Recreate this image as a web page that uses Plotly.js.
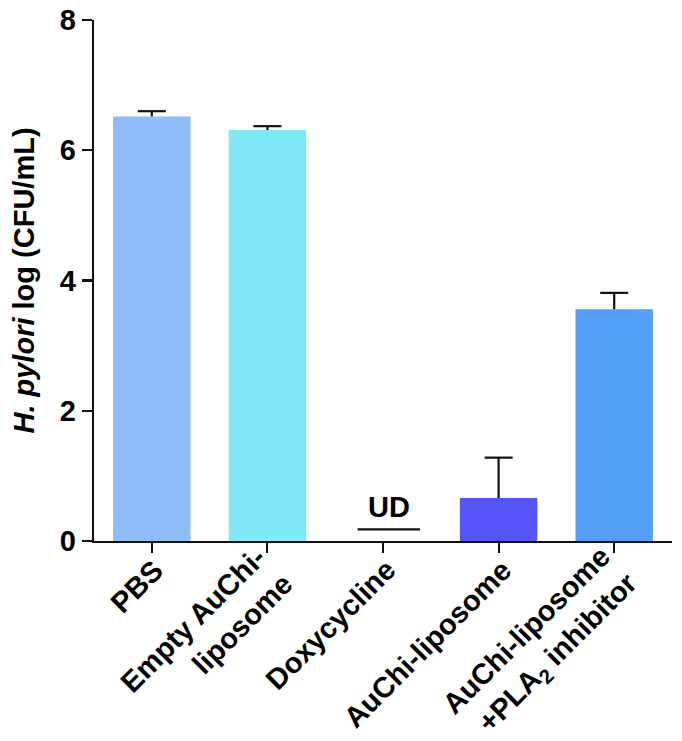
<!DOCTYPE html>
<html>
<head>
<meta charset="utf-8">
<script src="https://cdn.plot.ly/plotly-3.0.1.min.js"></script>
<style>html,body{margin:0;padding:0;background:#fff;}#chart{width:682px;height:741px;}</style>
</head>
<body>
<div id="chart"></div>
<script>
var categories = ["PBS", "Empty AuChi-liposome", "Doxycycline", "AuChi-liposome", "AuChi-liposome+PLA2 inhibitor"];
var tickLabels = ["PBS", "Empty AuChi-<br>liposome", "Doxycycline", "AuChi-liposome", "AuChi-liposome<br>+PLA<sub>2</sub> inhibitor"];
var means = [6.52, 6.31, null, 0.66, 3.56];
var errPlus = [0.08, 0.06, null, 0.62, 0.25];
var barColors = ["#8FBDF9", "#80E8F8", "#ffffff", "#5454F8", "#559EF9"];
var udCategory = "Doxycycline";
var udLevel = 0.18;
var yTicks = [0, 2, 4, 6, 8];

var FONT = "Arial, 'Liberation Sans', sans-serif";
var LABEL_SIZE = 29;

var bars = {
  type: "bar",
  x: categories,
  y: means,
  width: 0.67,
  marker: {color: barColors, line: {width: 0}},
  hoverinfo: "skip"
};

// error bars (upper only): cap marker at mean+err, stem down to bar top
var tops = means.map(function (m, i) { return (m == null || errPlus[i] == null) ? null : m + errPlus[i]; });
var errs = {
  type: "scatter",
  mode: "markers",
  x: categories,
  y: tops,
  marker: {symbol: "line-ew", size: 20, color: "#111", line: {color: "#111", width: 2.2}},
  error_y: {type: "data", symmetric: false, array: errPlus.map(function () { return 0; }),
            arrayminus: errPlus.map(function (e) { return e == null ? 0 : e; }),
            color: "#111", thickness: 2.2, width: 0},
  cliponaxis: false,
  hoverinfo: "skip"
};

var udIndex = categories.indexOf(udCategory);

// rotated category labels: right-aligned block, end-edge centred just below each tick
var endDx = 7, endDy = 24;
var labelAnns = tickLabels.map(function (t, i) {
  var n = t.split("<br>").length;
  var H = n * LABEL_SIZE * 1.3 + 2;
  var k = 0.354 * H;
  return {
    xref: "x", yref: "paper", x: categories[i], y: 0,
    text: "<b>" + t + "</b>", showarrow: false, textangle: -45,
    xanchor: "right", yanchor: "top", align: "right",
    xshift: endDx + k, yshift: -(endDy - k),
    font: {family: FONT, size: LABEL_SIZE, color: "#000"}
  };
});

var layout = {
  width: 682, height: 741,
  margin: {l: 94, r: 10, t: 20, b: 200},
  paper_bgcolor: "#fff", plot_bgcolor: "#fff",
  showlegend: false,
  font: {family: FONT, color: "#000"},
  xaxis: {
    type: "category",
    range: [-0.5, 4.5],
    automargin: false,
    showline: true, linecolor: "#111", linewidth: 2.2,
    ticks: "outside", ticklen: 10, tickwidth: 2.2, tickcolor: "#111",
    showticklabels: false,
    showgrid: false, zeroline: false
  },
  yaxis: {
    range: [0, 8],
    automargin: false,
    tickvals: yTicks, ticktext: yTicks.map(String),
    showline: true, linecolor: "#111", linewidth: 2.2,
    ticks: "outside", ticklen: 10, tickwidth: 2.2, tickcolor: "#111",
    tickfont: {family: FONT, size: 29, color: "#000", weight: "bold"},
    showgrid: false, zeroline: false,
    title: {text: "<b><i>H. pylori</i> log (CFU/mL)</b>", font: {family: FONT, size: 29, color: "#000"}, standoff: 17}
  },
  shapes: [{
    type: "line", xref: "x", yref: "y",
    x0: udIndex - 0.22, x1: udIndex + 0.32, y0: udLevel, y1: udLevel,
    line: {color: "#111", width: 2.2}
  }],
  annotations: [{
    xref: "x", yref: "y", x: udIndex + 0.05, y: udLevel,
    text: "<b>UD</b>", showarrow: false, yanchor: "bottom", yshift: 4,
    font: {family: FONT, size: 29, color: "#000"}
  }].concat(labelAnns)
};

Plotly.newPlot("chart", [bars, errs], layout, {displayModeBar: false, staticPlot: true});
</script>
</body>
</html>
